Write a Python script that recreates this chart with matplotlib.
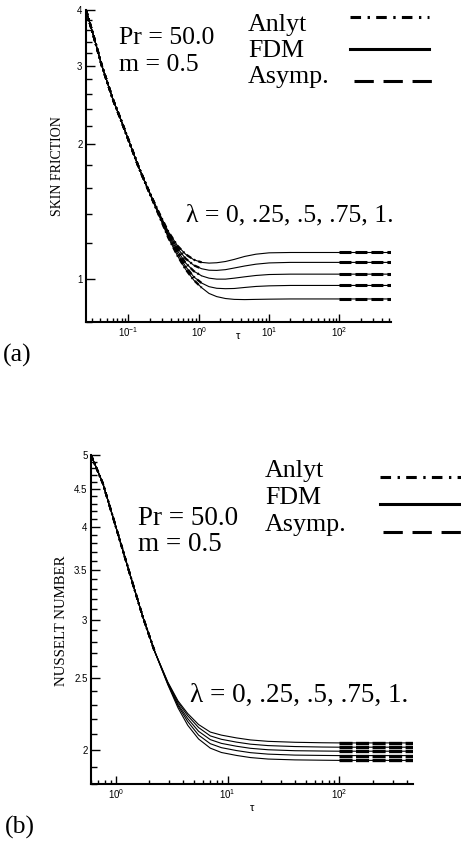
import matplotlib
matplotlib.use("Agg")
import matplotlib.pyplot as plt
from matplotlib.lines import Line2D
from matplotlib.ticker import (FixedLocator, FormatStrFormatter, LogLocator,
                               LogFormatterSciNotation, NullFormatter)

plt.rcParams["font.family"] = ["Liberation Sans", "DejaVu Sans"]
plt.rcParams["lines.scale_dashes"] = False

SERIF = ["Liberation Serif", "DejaVu Serif"]
W, H = 461, 843

# ---- (a) skin friction ----
tau_a = [0.025, 0.032, 0.042, 0.061, 0.08, 0.106, 0.139, 0.183,
         0.27, 0.37, 0.5, 0.65, 0.85, 1.1, 1.4, 1.8, 2.4, 3.2, 4.5, 6.5, 10, 20, 100, 540]
skin_common = [4.0, 3.5, 3.0, 2.51, 2.25, 2.0, 1.784, 1.609]
skin_1 = skin_common + [1.41, 1.275, 1.185, 1.135, 1.103, 1.088, 1.084, 1.086,
                        1.093, 1.105, 1.122, 1.135, 1.143, 1.145, 1.145, 1.145]
skin_2 = skin_common + [1.405, 1.265, 1.17, 1.11, 1.072, 1.053, 1.045, 1.044,
                        1.048, 1.057, 1.068, 1.078, 1.085, 1.088, 1.088, 1.088]
skin_3 = skin_common + [1.40, 1.255, 1.155, 1.085, 1.04, 1.015, 1.003, 0.998,
                        0.998, 1.003, 1.01, 1.017, 1.022, 1.024, 1.024, 1.024]
skin_4 = skin_common + [1.395, 1.245, 1.14, 1.065, 1.01, 0.978, 0.960, 0.952,
                        0.95, 0.951, 0.956, 0.961, 0.964, 0.966, 0.966, 0.966]
skin_5 = skin_common + [1.39, 1.235, 1.125, 1.05, 0.993, 0.955, 0.927, 0.912,
                        0.903, 0.899, 0.898, 0.899, 0.9, 0.901, 0.901, 0.901]
skin_curves = [skin_1, skin_2, skin_3, skin_4, skin_5]
anlyt_end_a = 1.1
tau_asym_a = [100, 540]
asym_a = [1.145, 1.088, 1.024, 0.966, 0.901]

# ---- (b) Nusselt number ----
tau_b = [0.6, 0.765, 0.94, 1.155, 1.42, 1.75, 2.22,
         2.92, 3.6, 4.4, 5.5, 7, 8.8, 12, 16, 23, 40, 70, 100, 455]
nu_common = [5.0, 4.58, 4.13, 3.72, 3.35, 3.02, 2.72]
nu_1 = nu_common + [2.47, 2.33, 2.24, 2.165, 2.115, 2.095, 2.077, 2.064, 2.055, 2.049, 2.046, 2.045, 2.045]
nu_2 = nu_common + [2.465, 2.32, 2.225, 2.145, 2.09, 2.068, 2.05, 2.037, 2.028, 2.022, 2.019, 2.018, 2.018]
nu_3 = nu_common + [2.46, 2.305, 2.205, 2.12, 2.066, 2.042, 2.024, 2.011, 2.002, 1.996, 1.994, 1.993, 1.993]
nu_4 = nu_common + [2.455, 2.295, 2.185, 2.095, 2.04, 2.015, 1.997, 1.984, 1.975, 1.969, 1.967, 1.966, 1.966]
nu_5 = nu_common + [2.45, 2.28, 2.16, 2.07, 2.012, 1.985, 1.967, 1.954, 1.945, 1.94, 1.938, 1.937, 1.937]
nu_curves = [nu_1, nu_2, nu_3, nu_4, nu_5]
anlyt_end_b = 2.3
tau_asym_b = [100, 455]
asym_b = [2.045, 2.018, 1.993, 1.966, 1.937]

lam_text = "λ = 0, .25, .5, .75, 1."


def fx(px):
    return px / W


def fy(py):
    return 1 - py / H


def make_axes(left, top, right, bottom, xlim, ylim, ymajor, ystep):
    ax = fig.add_axes([fx(left), fy(bottom), (right - left) / W, (bottom - top) / H])
    ax.set_xscale("log")
    ax.set_yscale("log")
    ax.set_xlim(*xlim)
    ax.set_ylim(*ylim)
    for s in ("top", "right"):
        ax.spines[s].set_visible(False)
    for s in ("left", "bottom"):
        ax.spines[s].set_linewidth(1.5)
    ax.xaxis.set_major_locator(LogLocator(base=10))
    ax.xaxis.set_major_formatter(LogFormatterSciNotation())
    ax.xaxis.set_minor_locator(LogLocator(base=10, subs=range(2, 10), numticks=20))
    ax.xaxis.set_minor_formatter(NullFormatter())
    ax.yaxis.set_major_locator(FixedLocator(ymajor))
    ax.yaxis.set_major_formatter(FormatStrFormatter("%g"))
    n = int(round((ylim[1] - ylim[0]) / ystep))
    minors = [round(ylim[0] + i * ystep, 3) for i in range(n + 1)]
    minors = [v for v in minors if all(abs(v - m) > 1e-6 for m in ymajor)]
    ax.yaxis.set_minor_locator(FixedLocator(minors))
    ax.yaxis.set_minor_formatter(NullFormatter())
    ax.tick_params(which="both", direction="in", top=False, right=False,
                   width=1.0, labelsize=7, pad=2.5)
    ax.tick_params(axis="y", which="major", length=6.5)
    ax.tick_params(axis="y", which="minor", length=4.3)
    ax.tick_params(axis="x", which="major", length=5.5)
    ax.tick_params(axis="x", which="minor", length=3.0)
    return ax


def ftext(x, y, s, size, va="baseline", **kw):
    fig.text(fx(x), fy(y), s, fontsize=size, family=SERIF, va=va, **kw)


def fline(x0, x1, y, lw=2.2, **kw):
    fig.add_artist(Line2D([fx(x0), fx(x1)], [fy(y), fy(y)], transform=fig.transFigure,
                          color="k", lw=lw, **kw))


fig = plt.figure(figsize=(W / 100, H / 100), dpi=100)

anlyt_style = (0, (4, 2.2, 1.2, 2.2))

# ---------- panel (a) ----------
ax1 = make_axes(86, 10, 391, 322, (0.025, 540), (0.8, 4.0), [1, 2, 3, 4], 0.2)
for vals in skin_curves:
    ax1.plot(tau_a, vals, color="k", lw=0.8)
    n = sum(t <= anlyt_end_a for t in tau_a)
    ax1.plot(tau_a[:n], vals[:n], color="k", lw=1.6, linestyle=anlyt_style)
for v in asym_a:
    ax1.plot(tau_asym_a, [v, v], color="k", lw=2.2, dashes=(8.6, 2.9))

ftext(119, 44.5, "Pr = 50.0", 18.5)
ftext(119, 71, "m = 0.5", 18.5)
ftext(186, 221.7, lam_text, 18.5)
ftext(248, 30.7, "Anlyt", 18.7)
ftext(248, 56.7, "FDM", 18.7)
ftext(248, 83, "Asymp.", 18.7)
fline(350, 429, 16.7, linestyle=(0, (7.6, 4.7, 1.7, 4.5)))
fline(350, 429, 49.3)
fline(354, 432, 80.7, linestyle=(0, (13.9, 7.0)))
fig.text(fx(57.7), fy(166.5), "SKIN FRICTION", rotation=90, fontsize=10,
         family=SERIF, ha="center", va="center")
fig.text(fx(238.5), fy(336), "τ", fontsize=8, ha="center", va="center")
ftext(3, 355, "(a)", 18.5, va="center")

# ---------- panel (b) ----------
ax2 = make_axes(91, 455, 413, 784, (0.6, 455), (1.8, 5.0),
                [2, 2.5, 3, 3.5, 4, 4.5, 5], 0.1)
for vals in nu_curves:
    ax2.plot(tau_b, vals, color="k", lw=0.8)
    n = sum(t <= anlyt_end_b for t in tau_b)
    ax2.plot(tau_b[:n], vals[:n], color="k", lw=1.4, linestyle=anlyt_style)
for v in asym_b:
    ax2.plot(tau_asym_b, [v, v], color="k", lw=2.4, dashes=(9.4, 2.5))

ftext(138, 525, "Pr = 50.0", 19.5)
ftext(138, 551, "m = 0.5", 19.5)
ftext(190, 701.7, lam_text, 19.5)
ftext(265, 477, "Anlyt", 18.7)
ftext(265, 504, "FDM", 18.7)
ftext(265, 531, "Asymp.", 18.7)
fline(380, 470, 476.7, linestyle=(0, (7.6, 4.7, 1.7, 4.5)))
fline(380, 470, 503.5)
fline(383, 470, 531.7, linestyle=(0, (13.9, 7.0)))
fig.text(fx(61), fy(620.5), "NUSSELT NUMBER", rotation=90, fontsize=10.7,
         family=SERIF, ha="center", va="center")
fig.text(fx(252), fy(808), "τ", fontsize=8, ha="center", va="center")
ftext(5, 827, "(b)", 18.5, va="center")

fig.savefig("out.png", dpi=100)
